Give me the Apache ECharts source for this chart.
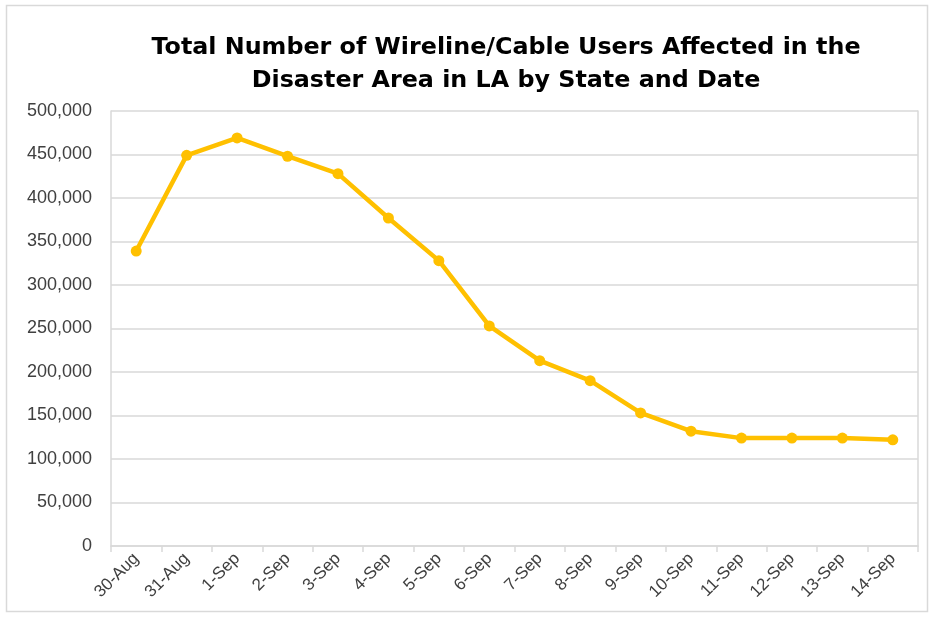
<!DOCTYPE html>
<html><head><meta charset="utf-8">
<script src="https://cdn.jsdelivr.net/npm/echarts@6/dist/echarts.min.js"></script>
<style>html,body{margin:0;padding:0;background:#fff}#c{width:932px;height:617px}</style>
</head><body><div id="c"></div>
<script>
const categories = ['30-Aug','31-Aug','1-Sep','2-Sep','3-Sep','4-Sep','5-Sep','6-Sep','7-Sep','8-Sep','9-Sep','10-Sep','11-Sep','12-Sep','13-Sep','14-Sep'];
const usersAffected = [339000,449000,469000,448000,428000,377000,328000,253000,213000,190000,153000,132000,124000,124000,124000,122000];
const titleLines = ['Total Number of Wireline/Cable Users Affected in the','Disaster Area in LA by State and Date'];

const chart = echarts.init(document.getElementById('c'), null, {renderer:'canvas'});
const fam = '"Liberation Sans",sans-serif';
chart.setOption({
  animation:false,
  backgroundColor:'#fff',
  graphic:[{type:'rect',shape:{x:6.5,y:5.5,width:921,height:606},style:{fill:'none',stroke:'#d9d9d9',lineWidth:1.5},silent:true}],
  title:{text:titleLines.join('\n'),left:501,textAlign:'center',top:26,
    textStyle:{fontFamily:'"DejaVu Sans",sans-serif',fontWeight:'bold',fontSize:23.8,color:'#000',lineHeight:33}},
  grid:{left:111,right:14,top:111,bottom:71,containLabel:false},
  xAxis:{type:'category',data:categories,boundaryGap:true,
    axisLine:{lineStyle:{color:'#d9d9d9',width:1.5}},
    axisTick:{show:true,length:6,lineStyle:{color:'#d9d9d9',width:1.5}},
    axisLabel:{rotate:45,interval:0,margin:10,fontFamily:fam,fontSize:17,color:'#404040'}},
  yAxis:[{type:'value',min:0,max:500000,interval:50000,
    axisLine:{show:true,lineStyle:{color:'#d9d9d9',width:1.5}},
    axisTick:{show:false},
    splitLine:{lineStyle:{color:'#d9d9d9',width:1.5}},
    axisLabel:{margin:19,fontFamily:fam,fontSize:18,color:'#404040',
      formatter:v=>v.toLocaleString('en-US')}},
    {type:'value',min:0,max:500000,interval:50000,position:'right',
    axisLine:{show:true,lineStyle:{color:'#d9d9d9',width:1.5}},
    axisTick:{show:false},axisLabel:{show:false},splitLine:{show:false}}],
  series:[{type:'line',data:usersAffected,symbol:'circle',symbolSize:11,
    lineStyle:{color:'#FFC000',width:4.5},itemStyle:{color:'#FFC000'}}]
});
</script></body></html>
